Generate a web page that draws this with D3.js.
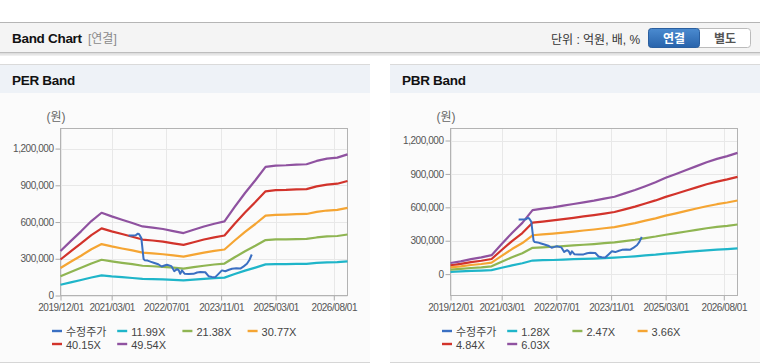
<!DOCTYPE html>
<html><head><meta charset="utf-8">
<script src="https://cdn.jsdelivr.net/npm/d3@7/dist/d3.min.js"></script>
<style>
html,body{margin:0;padding:0;background:#fff;}
body{width:760px;height:364px;overflow:hidden;}
svg{display:block;font-family:"Liberation Sans","Noto Sans CJK KR",sans-serif;}
</style></head>
<body>
<svg id="root" width="760" height="364"></svg>
<script>
// ---------- data ----------
const bandDates = ["2019-12-01","2020-03-01","2020-06-01","2020-09-01","2020-12-01","2021-03-01","2021-06-01","2021-09-01","2021-12-01","2022-03-01","2022-06-01","2022-09-01","2022-12-01","2023-03-01","2023-06-01","2023-09-01","2023-12-01","2024-03-01","2024-06-01","2024-09-01","2024-12-01","2025-03-01","2025-06-01","2025-09-01","2025-12-01","2026-03-01","2026-06-01","2026-09-01","2026-12-01"];

const priceDates = ["2021-07-30","2021-09-01","2021-10-01","2021-10-20","2021-11-01","2021-11-20","2021-12-10","2021-12-20","2022-01-15","2022-02-15","2022-03-10","2022-04-20","2022-05-20","2022-06-15","2022-07-06","2022-08-15","2022-09-09","2022-10-05","2022-10-20","2022-11-02","2022-11-17","2022-12-10","2023-01-15","2023-02-28","2023-04-01","2023-04-29","2023-06-13","2023-07-12","2023-08-10","2023-09-10","2023-10-09","2023-11-08","2023-12-08","2024-01-10","2024-02-06","2024-03-15","2024-04-20","2024-05-20","2024-06-18","2024-07-10","2024-07-31"];
const priceValues = [491000,490000,492000,505000,500000,470000,300000,288000,285000,275000,268000,255000,237000,245000,251000,240000,199000,215000,205000,177000,205000,178000,176000,177000,188000,191000,190000,158000,152000,150000,177000,205000,198000,210000,218000,222000,220000,238000,259000,290000,335000];

const per1199 = [88000,107000,127000,147000,164000,156000,150000,143000,136000,134000,131000,127000,123000,130000,136000,142000,146000,175000,203000,228000,254000,257000,257000,259000,259000,266000,271000,272000,279000];
const per2138 = [157000,192000,226000,262000,292000,279000,267000,256000,243000,239000,234000,227000,220000,232000,243000,253000,261000,312000,361000,406000,453000,458000,459000,461000,463000,474000,483000,486000,498000];
const per3077 = [225000,276000,325000,378000,420000,401000,384000,368000,350000,344000,337000,327000,317000,334000,350000,364000,376000,449000,520000,584000,652000,659000,661000,664000,666000,683000,694000,699000,716000];
const per4015 = [294000,360000,425000,493000,548000,524000,502000,480000,457000,449000,440000,426000,413000,435000,457000,475000,490000,586000,678000,763000,851000,860000,862000,866000,869000,891000,906000,913000,935000];
const per4954 = [363000,444000,524000,608000,676000,646000,619000,592000,564000,554000,543000,526000,510000,537000,564000,586000,605000,723000,837000,941000,1050000,1061000,1064000,1069000,1072000,1099000,1118000,1126000,1153000];

const pbr128 = [21000,24000,29000,32000,36000,57000,79000,98000,122000,125000,127000,131000,134000,137000,140000,144000,148000,154000,160000,168000,175000,184000,191000,199000,206000,213000,220000,225000,231000];
const pbr247 = [41000,47000,55000,61000,70000,111000,152000,188000,236000,241000,246000,252000,258000,264000,270000,278000,285000,297000,309000,324000,338000,354000,369000,383000,397000,412000,424000,434000,446000];
const pbr366 = [61000,70000,82000,91000,103000,164000,225000,279000,349000,357000,364000,373000,382000,392000,401000,412000,422000,440000,458000,480000,501000,525000,546000,568000,589000,610000,628000,643000,661000];
const pbr484 = [80000,92000,108000,120000,136000,217000,297000,369000,462000,472000,482000,494000,506000,518000,530000,544000,558000,582000,606000,634000,662000,694000,722000,751000,779000,807000,831000,851000,874000];
const pbr603 = [100000,115000,135000,150000,170000,270000,370000,460000,575000,588000,600000,615000,630000,645000,660000,678000,695000,725000,755000,790000,825000,865000,900000,935000,970000,1005000,1035000,1060000,1089000];

const perLabels = ["수정주가","11.99X","21.38X","30.77X","40.15X","49.54X"];
const pbrLabels = ["수정주가","1.28X","2.47X","3.66X","4.84X","6.03X"];
const seriesColors = ["#3a6fc2","#1fb5c9","#8fb552","#f5a533","#d2332b","#8f52a0"];

const xTickDates = ["2019-12-01","2021-03-01","2022-07-01","2023-11-01","2025-03-01","2026-08-01"];
const yTickValues = [0,300000,600000,900000,1200000];
const xDomain = ["2019-12-01","2026-12-01"];
const perYDomain = [0,1364000];
const pbrYDomain = [-192000,1308000];

// ---------- chrome ----------
const parse = d3.timeParse("%Y-%m-%d");
const svg = d3.select("#root");
const defs = svg.append("defs");
const grad = defs.append("linearGradient").attr("id","btnBlue").attr("x1",0).attr("y1",0).attr("x2",0).attr("y2",1);
grad.append("stop").attr("offset","0%").attr("stop-color","#4b8bd0");
grad.append("stop").attr("offset","100%").attr("stop-color","#2863ab");

// header bar
svg.append("rect").attr("x",0).attr("y",53).attr("width",760).attr("height",3).attr("fill","#efefef");
svg.append("rect").attr("x",0).attr("y",53).attr("width",760).attr("height",1.5).attr("fill","#dedede");
svg.append("rect").attr("x",0).attr("y",22).attr("width",760).attr("height",31).attr("fill","#f4f4f4");
svg.append("line").attr("x1",0).attr("x2",760).attr("y1",22.5).attr("y2",22.5).attr("stroke","#b5b5b5");
svg.append("line").attr("x1",0).attr("x2",760).attr("y1",52.5).attr("y2",52.5).attr("stroke","#bdbdbd");
svg.append("text").attr("x",12).attr("y",43).attr("font-size","13.5px").attr("font-weight","bold").attr("fill","#111").attr("letter-spacing","-0.3").text("Band Chart");
svg.append("text").attr("x",88).attr("y",43).attr("font-size","12px").attr("fill","#8a8a8a").text("[연결]");
svg.append("text").attr("x",551).attr("y",44).attr("font-size","12px").attr("fill","#333").text("단위 : 억원, 배, %");
svg.append("rect").attr("x",648.5).attr("y",28.5).attr("width",102).attr("height",19).attr("rx",3).attr("fill","#fff").attr("stroke","#bbb");
svg.append("rect").attr("x",648.5).attr("y",28.5).attr("width",51).attr("height",19).attr("rx",3).attr("fill","url(#btnBlue)").attr("stroke","#2b5f9f");
svg.append("text").attr("x",674).attr("y",42.5).attr("text-anchor","middle").attr("font-size","12px").attr("font-weight","bold").attr("fill","#fff").text("연결");
svg.append("text").attr("x",725).attr("y",42.5).attr("text-anchor","middle").attr("font-size","12px").attr("font-weight","bold").attr("fill","#555").text("별도");

function drawPanel(ox, title, yDomain, bands, labels) {
  const g = svg.append("g").attr("transform", `translate(${ox},0)`);
  g.append("rect").attr("x",0).attr("y",64).attr("width",370).attr("height",298).attr("fill","#fbfbfb");
  g.append("rect").attr("x",0).attr("y",64).attr("width",370).attr("height",29).attr("fill","#eef2f7");
  g.append("line").attr("x1",0).attr("x2",370).attr("y1",64.5).attr("y2",64.5).attr("stroke","#dadada");
  g.append("line").attr("x1",0).attr("x2",370).attr("y1",362.5).attr("y2",362.5).attr("stroke","#d6d6d6");
  g.append("text").attr("x",12).attr("y",85).attr("font-size","13.5px").attr("font-weight","bold").attr("fill","#111").attr("letter-spacing","-0.3").text(title);
  g.append("text").attr("x",56).attr("y",121).attr("text-anchor","middle").attr("font-size","12px").attr("fill","#666").text("(원)");

  const L = 60.5, R = 347.5, T = 128.5, B = 295.5;
  const x = d3.scaleTime().domain(xDomain.map(parse)).range([L, R]);
  const y = d3.scaleLinear().domain(yDomain).range([B, T]);

  // grid
  g.append("g").selectAll("line").data(yTickValues).join("line")
    .attr("x1",L).attr("x2",R).attr("y1",d=>Math.round(y(d))+0.5).attr("y2",d=>Math.round(y(d))+0.5)
    .attr("stroke","#e8e8e8");
  g.append("g").selectAll("line").data(xTickDates.map(parse)).join("line")
    .attr("x1",d=>Math.round(x(d))+0.5).attr("x2",d=>Math.round(x(d))+0.5).attr("y1",T).attr("y2",B)
    .attr("stroke","#e8e8e8");

  // axes
  const yAxis = d3.axisLeft(y).tickValues(yTickValues).tickSize(5).tickPadding(2).tickFormat(d3.format(","));
  const ya = g.append("g").attr("transform",`translate(${L},0)`).call(yAxis);
  const xAxis = d3.axisBottom(x).tickValues(xTickDates.map(parse)).tickSize(5).tickPadding(3).tickFormat(d3.timeFormat("%Y/%m/%d"));
  const xa = g.append("g").attr("transform",`translate(0,${B})`).call(xAxis);
  [ya, xa].forEach(a => {
    a.select(".domain").remove();
    a.selectAll(".tick line").attr("stroke","#aaa");
    a.selectAll(".tick text").attr("fill","#555").attr("font-size","10px").attr("letter-spacing","-0.45")
      .attr("font-family","'Liberation Sans',sans-serif");
  });

  // border
  g.append("rect").attr("x",L).attr("y",T).attr("width",R-L).attr("height",B-T)
    .attr("fill","none").attr("stroke","#b3b3b3");

  // lines
  const bd = bandDates.map(parse);
  const line = d3.line().x(d=>x(d[0])).y(d=>y(d[1]));
  bands.forEach((vals, i) => {
    g.append("path").datum(vals.map((v,k)=>[bd[k], v])).attr("d", line)
      .attr("fill","none").attr("stroke", seriesColors[i+1]).attr("stroke-width",2.2).attr("stroke-linejoin","round");
  });
  const pd = priceDates.map(parse);
  g.append("path").datum(priceValues.map((v,k)=>[pd[k], v])).attr("d", line)
    .attr("fill","none").attr("stroke", seriesColors[0]).attr("stroke-width",2).attr("stroke-linejoin","round");

  // legend
  labels.forEach((lab, i) => {
    const lx = 52 + (i % 4) * 65.2;
    const ly = i < 4 ? 331 : 344;
    g.append("rect").attr("x",lx).attr("y",ly-1.2).attr("width",10).attr("height",2.4).attr("fill",seriesColors[i]);
    g.append("text").attr("x",lx+14).attr("y",ly+4.5).attr("font-size","11px").attr("fill","#444").text(lab);
  });
}

drawPanel(0, "PER Band", perYDomain, [per1199, per2138, per3077, per4015, per4954], perLabels);
drawPanel(390, "PBR Band", pbrYDomain, [pbr128, pbr247, pbr366, pbr484, pbr603], pbrLabels);
</script>
</body></html>
